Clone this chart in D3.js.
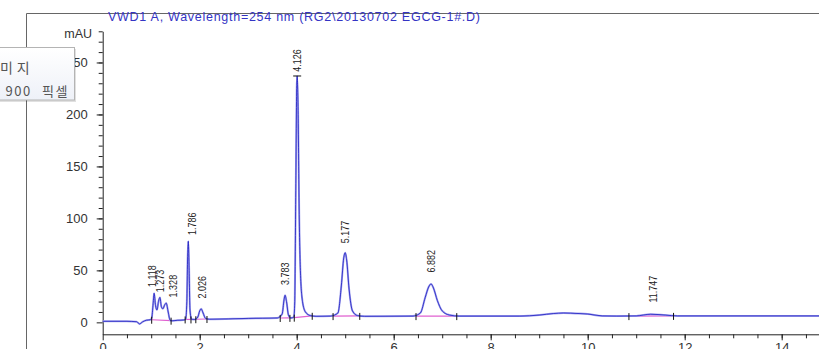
<!DOCTYPE html>
<html>
<head>
<meta charset="utf-8">
<script src="https://cdn.jsdelivr.net/npm/d3@7"></script>
<style>
  body { margin: 0; background: #fff; }
  svg { display: block; font-family: "Liberation Sans", Arial, sans-serif; }
</style>
</head>
<body>
<div class="main"></div>
<script>
// titulo e dados
var title = "VWD1 A, Wavelength=254 nm (RG2\\20130702 EGCG-1#.D)";
var yUnit = "mAU";
var xTicks = [0, 2, 4, 6, 8, 10, 12, 14];
var yTicks = [0, 50, 100, 150, 200, 250];

// sinal do detector [tempo (min), mAU]
var trace = [
  [0, 1.0], [0.5, 1.0], [0.7, 0.6], [0.76, -1.5], [0.82, 0.4], [0.9, 2], [0.98, 2.5],
  [1.01, 4], [1.04, 18], [1.06, 28], [1.09, 16], [1.12, 12],
  [1.15, 20], [1.18, 24], [1.21, 15], [1.24, 13],
  [1.28, 17], [1.31, 18.5], [1.35, 10], [1.39, 2], [1.43, 1.5],
  [1.55, 2], [1.66, 2.2], [1.71, 3],
  [1.735, 20], [1.75, 60], [1.765, 78], [1.78, 55], [1.80, 12], [1.83, 3], [1.9, 2.8],
  [1.96, 5], [2.0, 11], [2.03, 13], [2.07, 9], [2.12, 3.8], [2.2, 3],
  [3.0, 3.8], [3.6, 4.2], [3.7, 8], [3.74, 22], [3.76, 26], [3.79, 20], [3.83, 7], [3.88, 4.2], [3.94, 5],
  [3.96, 20], [3.98, 120], [4.0, 225], [4.01, 237], [4.03, 200], [4.05, 110], [4.08, 45],
  [4.12, 20], [4.18, 10], [4.28, 6.5], [4.4, 5.8],
  [4.7, 6], [4.85, 9], [4.92, 35], [4.97, 62], [5.0, 67], [5.03, 60], [5.08, 32], [5.15, 11], [5.25, 6.5], [5.4, 5.8],
  [6.4, 6], [6.55, 9], [6.65, 24], [6.72, 34], [6.77, 37], [6.82, 33], [6.9, 21], [7.0, 11], [7.15, 7], [7.35, 6],
  [8.6, 6], [9.0, 7], [9.3, 8.5], [9.5, 9], [9.8, 8.5], [10.0, 8], [10.3, 6.2], [10.6, 6],
  [11.0, 6.2], [11.3, 7.8], [11.6, 7], [11.85, 6.2], [14.8, 6.2]
];

// linhas de base da integracao [inicio, fim, mAU inicio, mAU fim]
var baselines = [
  [1.01, 1.41, 2.5, 1.6],
  [1.70, 1.82, 2.8, 2.8],
  [1.92, 2.15, 3.0, 3.2],
  [3.66, 3.86, 4.2, 4.3],
  [3.95, 4.32, 4.5, 6.3],
  [4.75, 5.30, 6.0, 6.2],
  [6.46, 7.30, 6.0, 6.0],
  [10.85, 11.77, 6.0, 6.2]
];

// rotulos dos picos: texto, tempo da posicao, mAU da base do texto
var peakText = ["1.118", "1.273", "1.328", "1.786", "2.026", "3.783", "4.126", "5.177", "6.882", "11.747"];
var peakTime = [1.02, 1.18, 1.45, 1.84, 2.05, 3.76, 4.0, 5.0, 6.76, 11.34];
var peakMAU  = [34, 29, 24, 84, 23, 36, 241, 76, 48, 19];

var width = 819, height = 349;

var svg = d3.select('.main').append('svg')
    .attr('width', width)
    .attr('height', height);

// escalas
var x = d3.scaleLinear().domain([0, 14.8]).range([102.7, 820.5]);
var y = d3.scaleLinear().domain([-11.5, 280]).range([334.3, 31.3]);

// moldura
svg.append('path')
    .attr('d', 'M26.5,349 V13.5 H819')
    .attr('fill', 'none')
    .attr('stroke', '#666')
    .attr('stroke-width', 1);

// titulo
svg.append('text')
    .attr('x', 108).attr('y', 21)
    .attr('font-size', 12.5)
    .attr('textLength', 372)
    .attr('lengthAdjust', 'spacing')
    .attr('fill', '#3434c4')
    .text(title);

// eixos
var yMinor = svg.append('g')
    .attr('transform', 'translate(' + x(0) + ',0)')
    .call(d3.axisLeft(y).tickValues(d3.range(10, 281, 10)).tickSize(4).tickFormat(''));
yMinor.select('path').remove();

var yAxis = svg.append('g')
    .attr('transform', 'translate(' + x(0) + ',0)')
    .call(d3.axisLeft(y).tickValues(yTicks).tickSize(6).tickPadding(9).tickSizeOuter(0));
yAxis.selectAll('text').attr('font-size', 13).attr('fill', '#333').attr('font-family', '"Liberation Sans", Arial');

var xMinor = svg.append('g')
    .attr('transform', 'translate(0,' + y(-11.5) + ')')
    .call(d3.axisBottom(x).tickValues(d3.range(0.5, 14.8, 0.5)).tickSize(4).tickFormat(''));
xMinor.select('path').remove();

var xAxis = svg.append('g')
    .attr('transform', 'translate(0,' + y(-11.5) + ')')
    .call(d3.axisBottom(x).tickValues(xTicks).tickSize(6).tickPadding(2).tickSizeOuter(0));
xAxis.selectAll('text').attr('font-size', 13).attr('fill', '#333').attr('font-family', '"Liberation Sans", Arial');

svg.selectAll('.domain, .tick line').attr('stroke', '#222');

svg.append('text')
    .attr('x', 92).attr('y', 38)
    .attr('text-anchor', 'end')
    .attr('font-size', 12.5)
    .attr('fill', '#333')
    .text(yUnit);

// linhas de base (rosa)
svg.selectAll('.bl').data(baselines).enter().append('line')
    .attr('class', 'bl')
    .attr('x1', d => x(d[0])).attr('x2', d => x(d[1]))
    .attr('y1', d => y(d[2])).attr('y2', d => y(d[3]))
    .attr('stroke', '#e060d0')
    .attr('stroke-width', 1.2);

// sinal
var line = d3.line().x(d => x(d[0])).y(d => y(d[1])).curve(d3.curveMonotoneX);
svg.append('path')
    .datum(trace)
    .attr('d', line)
    .attr('fill', 'none')
    .attr('stroke', '#a6a6ee')
    .attr('stroke-width', 2);
svg.append('path')
    .datum(trace)
    .attr('d', line)
    .attr('fill', 'none')
    .attr('stroke', '#1c1cc0')
    .attr('stroke-opacity', 0.8)
    .attr('stroke-width', 1);

// marcas de inicio/fim de pico
var marks = [];
baselines.forEach(b => { marks.push([b[0], b[2]]); marks.push([b[1], b[3]]); });
svg.selectAll('.mk').data(marks).enter().append('line')
    .attr('class', 'mk')
    .attr('x1', d => x(d[0])).attr('x2', d => x(d[0]))
    .attr('y1', d => y(d[1]) - 3).attr('y2', d => y(d[1]) + 4)
    .attr('stroke', '#111')
    .attr('stroke-width', 1);

// marca no topo do pico principal
svg.append('line')
    .attr('x1', x(4.01) - 4).attr('x2', x(4.01) + 4)
    .attr('y1', y(237)).attr('y2', y(237))
    .attr('stroke', '#111');

// rotulos (fonte estreita)
svg.selectAll('.pl').data(peakText).enter().append('text')
    .attr('class', 'pl')
    .attr('transform', (d, i) => 'translate(' + (x(peakTime[i]) + 4) + ',' + y(peakMAU[i]) + ') rotate(-90) scale(0.82,1)')
    .attr('font-size', 11)
    .attr('fill', '#222')
    .text(d => d);

// janela popup sobreposta
var defs = svg.append('defs');
var grad = defs.append('linearGradient').attr('id', 'pg').attr('x1', 0).attr('y1', 0).attr('x2', 0).attr('y2', 1);
grad.append('stop').attr('offset', '0%').attr('stop-color', '#ffffff');
grad.append('stop').attr('offset', '100%').attr('stop-color', '#eef1f8');
svg.append('rect')
    .attr('x', -4).attr('y', 49).attr('width', 80).attr('height', 53)
    .attr('fill', '#000').attr('opacity', 0.12);
svg.append('rect')
    .attr('x', -5).attr('y', 47.5).attr('width', 79.5).attr('height', 52.5)
    .attr('fill', 'url(#pg)')
    .attr('stroke', '#b4b4b4');
svg.append('text')
    .attr('x', -17).attr('y', 73)
    .attr('font-size', 14)
    .attr('letter-spacing', 4)
    .attr('font-family', '"Noto Sans CJK KR", sans-serif')
    .attr('fill', '#555')
    .text('이미지');
svg.append('text')
    .attr('x', 69).attr('y', 96)
    .attr('text-anchor', 'end')
    .attr('font-size', 13)
    .attr('letter-spacing', 1.5)
    .attr('word-spacing', 6)
    .attr('font-family', '"Noto Sans CJK KR", sans-serif')
    .attr('fill', '#555')
    .text('1600 x 900 픽셀');
</script>
</body>
</html>
